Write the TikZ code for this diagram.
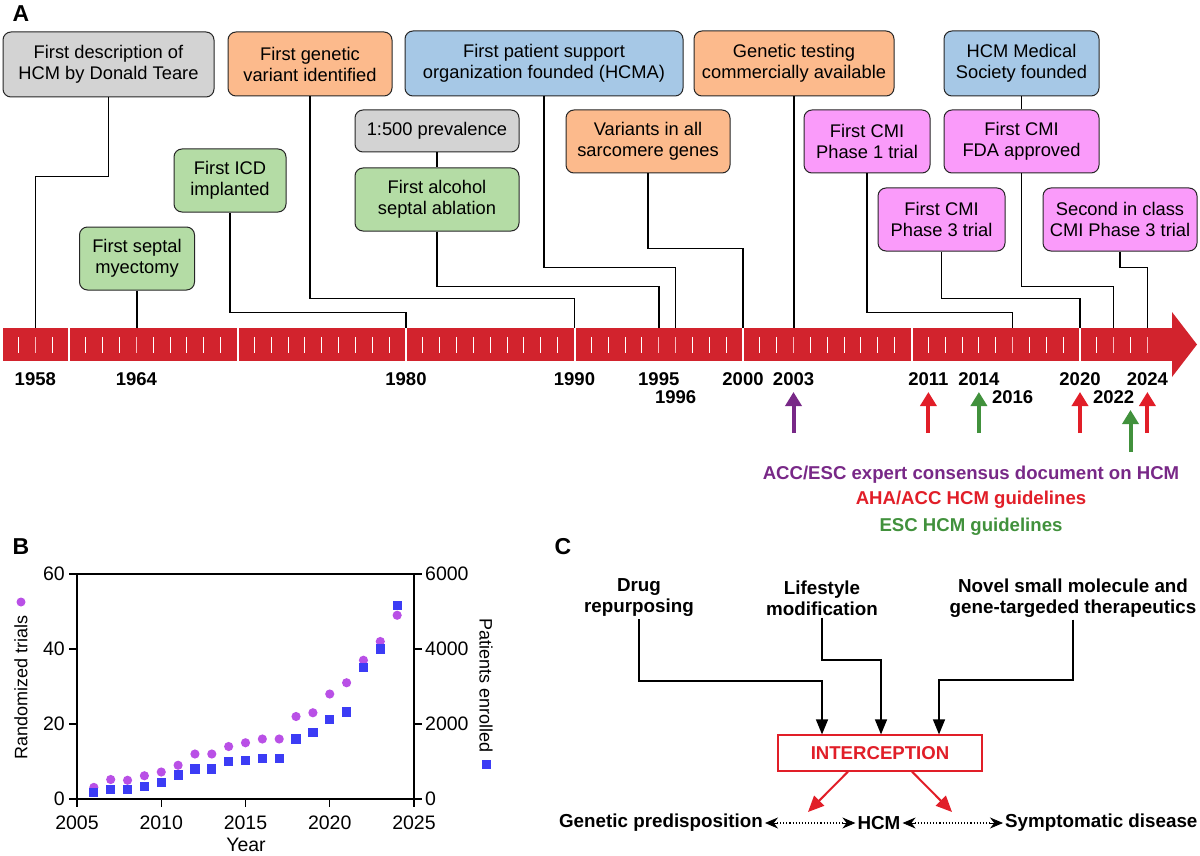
\documentclass[tikz,border=0pt]{standalone}
\usepackage{fontspec}
\setmainfont{Liberation Sans}
\usetikzlibrary{arrows.meta,calc}
\definecolor{barred}{RGB}{210,35,45}
\definecolor{tickpink}{RGB}{250,185,190}
\definecolor{bxgray}{RGB}{211,211,211}
\definecolor{bxorange}{RGB}{252,186,140}
\definecolor{bxblue}{RGB}{166,200,230}
\definecolor{bxgreen}{RGB}{180,220,165}
\definecolor{bxpink}{RGB}{250,155,250}
\definecolor{gpurple}{RGB}{120,40,135}
\definecolor{gred}{RGB}{225,30,40}
\definecolor{ggreen}{RGB}{65,145,60}
\definecolor{dotpurple}{RGB}{185,80,230}
\definecolor{sqblue}{RGB}{60,60,245}
\begin{document}
\begin{tikzpicture}[x=1pt,y=-1pt,
  evbox/.style={draw=black!85, line width=1pt, rounded corners=8pt, align=center,
    font=\fontsize{18.3}{21}\selectfont, inner sep=0pt},
  conn/.style={line width=1.5pt, black},
  yrlbl/.style={font=\bfseries\fontsize{18.5}{18}\selectfont, inner sep=0pt},
  guide/.style={line width=4pt, -{Triangle[length=14pt,width=16pt]}},
  legtxt/.style={font=\bfseries\fontsize{18.6}{18}\selectfont, inner sep=0pt},
  panel/.style={font=\bfseries\fontsize{23}{23}\selectfont, inner sep=0pt},
  axlbl/.style={font=\fontsize{19.5}{19.5}\selectfont, inner sep=1pt},
  rotlbl/.style={font=\fontsize{18}{18}\selectfont, inner sep=1pt},
  ctext/.style={font=\bfseries\fontsize{18.8}{21}\selectfont, align=center, inner sep=2pt},
  carrow/.style={line width=1.5pt, -{Triangle[length=15pt,width=12pt]}},
  redarr/.style={draw=gred, line width=2pt, -{Triangle[length=16pt,width=14pt]}},
  dotline/.style={dotted, line width=1.1pt, shorten <=12pt, shorten >=12pt},
  dothead/.style={line width=0.8pt, -{Stealth[length=13pt,width=11pt]}},
  circ/.style={fill=dotpurple, draw=none},
  sqr/.style={fill=sqblue, draw=none}
]
\useasboundingbox (0,0) rectangle (1200,856);

% ---------------- Panel A ----------------
\node[panel] (lA) at (21,14) {A};

% timeline bar
\fill[barred] (3,328) rectangle (1173,361);
\fill[barred] (1172,312) -- (1197,344.5) -- (1172,377) -- cycle;
\foreach \yr in {1960,1970,...,2020}
  \draw[white,line width=2pt] ({406+16.85*(\yr-1980)},327) -- ++(0,35);
\foreach \yr in {1957,...,2024}{
  \pgfmathtruncatemacro\m{mod(\yr,10)}
  \ifnum\m=0\else
    \draw[white,line width=1pt] ({406+16.85*(\yr-1980)},337) -- ++(0,16);
  \fi
}
\foreach \yr in {1958,1964,1995,1996,2003,2016,2022,2024}
  \draw[tickpink,line width=1pt] ({406+16.85*(\yr-1980)},337) -- ++(0,16);
\foreach \yr in {1958,1964,1980,1990,1995,1996,2000,2003,2016,2020,2022,2024}
  \coordinate (t\yr) at ({406+16.85*(\yr-1980)},328);

% event boxes
\node[evbox, fill=bxgray, minimum width=211pt, minimum height=65pt] (desc) at (108.5,64.5) {First description of\\HCM by Donald Teare};
\node[evbox, fill=bxorange, minimum width=164pt, minimum height=64pt] (variant) at (310,64) {First genetic\\variant identified};
\node[evbox, fill=bxblue, minimum width=278pt, minimum height=65pt] (hcma) at (544,63.5) {First patient support\\organization founded (HCMA)};
\node[evbox, fill=bxorange, minimum width=200pt, minimum height=65pt] (testing) at (794,63.5) {Genetic testing\\commercially available};
\node[evbox, fill=bxblue, minimum width=155pt, minimum height=65pt] (society) at (1021.5,63.5) {HCM Medical\\Society founded};
\node[evbox, fill=bxgray, minimum width=164pt, minimum height=42pt] (prev) at (437,131) {1:500 prevalence};
\node[evbox, fill=bxgreen, minimum width=164pt, minimum height=63pt] (asa) at (437,199.5) {First alcohol\\septal ablation};
\node[evbox, fill=bxorange, minimum width=164pt, minimum height=63pt] (sarc) at (648,141.5) {Variants in all\\sarcomere genes};
\node[evbox, fill=bxpink, minimum width=126pt, minimum height=63pt] (ph1) at (867,141.5) {First CMI\\Phase 1 trial};
\node[evbox, fill=bxpink, minimum width=155pt, minimum height=63pt] (fda) at (1021.5,141.5) {First CMI\\FDA approved};
\node[evbox, fill=bxgreen, minimum width=112pt, minimum height=63pt] (icd) at (230,180.5) {First ICD\\implanted};
\node[evbox, fill=bxgreen, minimum width=115pt, minimum height=63pt] (myect) at (137,258.5) {First septal\\myectomy};
\node[evbox, fill=bxpink, minimum width=127pt, minimum height=63pt] (ph3) at (941.5,219.5) {First CMI\\Phase 3 trial};
\node[evbox, fill=bxpink, minimum width=154pt, minimum height=63pt] (second) at (1120,219.5) {Second in class\\CMI Phase 3 trial};

% connectors
\draw[conn] (desc.south) -- ++(0,79) -| (t1958);
\draw[conn] (variant.south) -- ++(0,202) -| (t1990);
\draw[conn] (hcma.south) -- ++(0,171) -| (t1996);
\draw[conn] (testing.south) -- (testing.south |- t2003);
\draw[conn] (society.south) -- (fda.north);
\draw[conn] (prev.south) -- (asa.north);
\draw[conn] (asa.south) -- ++(0,55) -| (t1995);
\draw[conn] (sarc.south) -- ++(0,75) -| (t2000);
\draw[conn] (ph1.south) -- ++(0,139) -| (t2016);
\draw[conn] (fda.south) -- ++(0,113) -| (t2022);
\draw[conn] (icd.south) -- ++(0,100) -| (t1980);
\draw[conn] (myect.south) -- (myect.south |- t1964);
\draw[conn] (ph3.south) -- ++(0,47) -| (t2020);
\draw[conn] (second.south) -- ++(0,16) -| (t2024);

% year labels
\foreach \yr in {1958,1964,1980,1990,1995,2000,2003,2011,2014,2020,2024}
  \node[yrlbl] (y\yr) at ({406+16.85*(\yr-1980)},379) {\yr};
\foreach \yr in {1996,2016,2022}
  \node[yrlbl] (y\yr) at ({406+16.85*(\yr-1980)},397) {\yr};

% guideline arrows
\draw[guide,gpurple] (793.5,433) -- (793.5,392);
\draw[guide,gred] (928.4,433) -- (928.4,392);
\draw[guide,ggreen] (978.9,433) -- (978.9,392);
\draw[guide,gred] (1080,433) -- (1080,392);
\draw[guide,ggreen] (1130.5,452) -- (1130.5,410);
\draw[guide,gred] (1147.4,433) -- (1147.4,392);

\node[legtxt, text=gpurple] (leg1) at (971,475) {ACC/ESC expert consensus document on HCM};
\node[legtxt, text=gred] (leg2) at (971,500) {AHA/ACC HCM guidelines};
\node[legtxt, text=ggreen] (leg3) at (971,527) {ESC HCM guidelines};

% ---------------- Panel B ----------------
\node[panel] (lB) at (21,547) {B};
\draw[line width=1.6pt] (77,574) rectangle (414,799);
\foreach \v/\l/\r in {0/0/0,20/20/2000,40/40/4000,60/60/6000}{
  \draw[line width=1.2pt] (77,{799-3.75*\v}) -- ++(-8,0);
  \draw[line width=1.2pt] (414,{799-3.75*\v}) -- ++(8,0);
  \node[axlbl, anchor=east] at (66,{799-3.75*\v}) {\l};
  \node[axlbl, anchor=west] at (424,{799-3.75*\v}) {\r};
}
\foreach \k in {0,...,4}{
  \pgfmathtruncatemacro\yy{2005+5*\k}
  \draw[line width=1.2pt] ({77+84.25*\k},799) -- ++(0,8);
  \node[axlbl] at ({77+84.25*\k},823) {\yy};
}
\node[axlbl] (xlab) at (246,845) {Year};
\node[rotlbl, rotate=90] (ylab) at (21,687) {Randomized trials};
\fill[circ] (21,602) circle (4.5);
\node[rotlbl, rotate=-90] (y2lab) at (486,686) {Patients enrolled};
\fill[sqr] (481.5,760) rectangle (490.5,769);

\foreach \yr/\t in {2006/3.1,2007/5.2,2008/5.0,2009/6.2,2010/7.2,2011/9.0,2012/12,2013/12,2014/14,2015/15,2016/16,2017/16,2018/22,2019/23,2020/28,2021/31,2022/37,2023/42,2024/49}
  \fill[circ] ({77+16.85*(\yr-2005)},{799-3.75*\t}) circle (4.6);
\foreach \yr/\p in {2006/1.8,2007/2.5,2008/2.5,2009/3.4,2010/4.5,2011/6.4,2012/8,2013/8,2014/10,2015/10.3,2016/10.8,2017/10.8,2018/16,2019/17.7,2020/21.2,2021/23.2,2022/35.1,2023/40,2024/51.6}
  \fill[sqr] ({77+16.85*(\yr-2005)-4.6},{799-3.75*\p-4.6}) rectangle ++(9.2,9.2);

% ---------------- Panel C ----------------
\node[panel] (lC) at (563,547) {C};
\node[ctext] (drug) at (639,598) {Drug\\repurposing};
\node[ctext] (life) at (822,598) {Lifestyle\\modification};
\node[ctext] (novel) at (1073,598) {Novel small molecule and\\gene-targeded therapeutics};

\node[draw=gred, line width=1.2pt, fill=white, minimum width=204pt, minimum height=36pt,
  text=gred, font=\bfseries\fontsize{18.6}{18}\selectfont, inner sep=0pt] (interc) at (880,753) {INTERCEPTION};

\coordinate (jd) at (822,681);
\coordinate (jl) at (881,660);
\coordinate (jn) at (939,680);
\draw[carrow] (drug.south) |- (jd) -- (jd |- interc.north);
\draw[carrow] (life.south) |- (jl) -- (jl |- interc.north);
\draw[carrow] (novel.south) |- (jn) -- (jn |- interc.north);

\node[ctext, anchor=east] (gen) at (765,823) {Genetic predisposition};
\node[ctext] (hcm) at (879,823) {HCM};
\node[ctext, anchor=west] (symp) at (1003,823) {Symptomatic disease};
\draw[dotline] (gen.east) -- (hcm.west);
\draw[dotline] (hcm.east) -- (symp.west);
\draw[dothead] ($(gen.east)+(13,0)$) -- (gen.east);
\draw[dothead] ($(hcm.west)+(-13,0)$) -- (hcm.west);
\draw[dothead] ($(hcm.east)+(13,0)$) -- (hcm.east);
\draw[dothead] ($(symp.west)+(-13,0)$) -- (symp.west);

\coordinate (rl) at (808,812);
\coordinate (rr) at (952,812);
\draw[redarr] ($(interc.south)+(-32,0)$) -- (rl);
\draw[redarr] ($(interc.south)+(32,0)$) -- (rr);
\end{tikzpicture}
\end{document}
